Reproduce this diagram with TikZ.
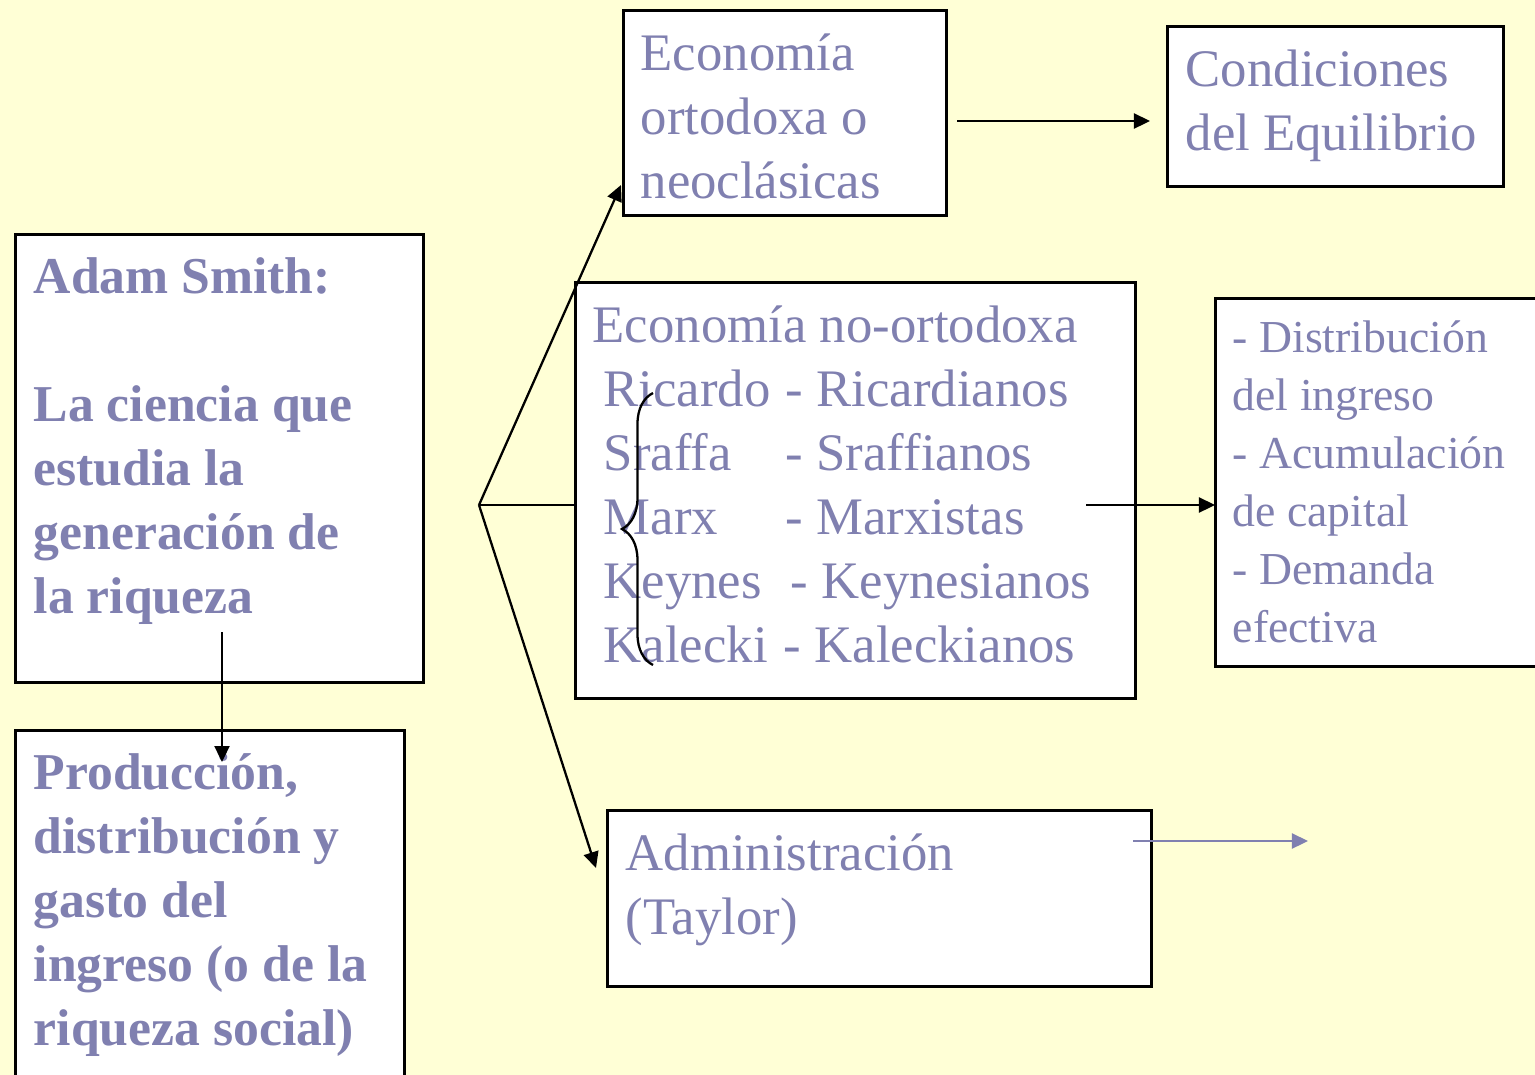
\documentclass[tikz,border=0pt]{standalone}
\usepackage{fontspec}
\setmainfont{Liberation Serif}
\usetikzlibrary{arrows.meta,positioning,decorations.pathreplacing}
\definecolor{paper}{RGB}{255,255,214}
\definecolor{ink}{RGB}{128,128,176}
\tikzset{block/.style={draw=black,fill=white,line width=0.75pt,anchor=north west,inner sep=0pt},txt/.style={anchor=north west,inner sep=0pt,align=left,text=ink,font=\fontsize{15}{18.2}\selectfont},txtbf/.style={txt,font=\fontsize{14.7}{18.2}\selectfont\bfseries},txtsm/.style={txt,font=\fontsize{13}{16.5}\selectfont},edge/.style={-{Triangle[length=1.6mm,width=1.5mm]},line width=0.65pt}}

\begin{document}
\begin{tikzpicture}[x=0.01cm,y=-0.01cm]
\fill[paper] (0,0) rectangle (1535,1075);
\useasboundingbox (0,0) rectangle (1535,1075);
\node[block,minimum width=4.08cm,minimum height=4.48cm] (smith) at (14,233) {};
\node[block,minimum width=3.89cm,minimum height=3.6cm] (prod) at (14,729) {};
\node[block,minimum width=3.23cm,minimum height=2.05cm] (orto) at (622,9) {};
\node[block,minimum width=3.36cm,minimum height=1.6cm] (cond) at (1166,25) {};
\node[block,minimum width=5.6cm,minimum height=4.16cm] (noorto) at (574,281) {};
\node[block,minimum width=3.4cm,minimum height=3.68cm] (dist) at (1214,297) {};
\node[block,minimum width=5.44cm,minimum height=1.76cm] (admin) at (606,809) {};
\node[txtbf] (smithtxt) at (33,257) {Adam Smith:\\[0.64cm]La ciencia que\\estudia la\\generación de\\la riqueza};
\node[txtbf] (prodtxt) at (33,753) {Producción,\\distribución y\\gasto del\\ingreso (o de la\\riqueza social)};
\node[txt] (ortotxt) at (640,33) {Economía\\ortodoxa o\\neoclásicas};
\node[txt] (condtxt) at (1185,49) {Condiciones\\del Equilibrio};
\node[txt] (noortotxt) at (592,305) {Economía no-ortodoxa\\
\hspace{0.11cm}\makebox[1.82cm][l]{Ricardo}- Ricardianos\\
\hspace{0.11cm}\makebox[1.82cm][l]{Sraffa}- Sraffianos\\
\hspace{0.11cm}\makebox[1.82cm][l]{Marx}- Marxistas\\
\hspace{0.11cm}\makebox[1.87cm][l]{Keynes}- Keynesianos\\
\hspace{0.11cm}\makebox[1.8cm][l]{Kalecki}- Kaleckianos};
\node[txtsm] (disttxt) at (1232,320) {- Distribución\\del ingreso\\- Acumulación\\de capital\\- Demanda\\efectiva};
\node[txt] (admintxt) at (625,833) {Administración\\(Taylor)};
\coordinate (fork) at (479,505);
\coordinate (s1) at (222,632);
\coordinate (p1) at (222,762);
\coordinate (o1) at (621,185);
\coordinate (a1) at (596,868);
\draw[edge] (s1) -- (p1);
\draw[line width=0.65pt] (fork) -- (noorto.west |- fork);
\draw[edge] (fork) -- (o1);
\draw[edge] (fork) -- (a1);
\draw[edge] (957,121) coordinate (o2) -- (1150,121) coordinate (c1);
\draw[edge] (1086,505) coordinate (n1) -- (1215,505) coordinate (d1);
\draw[edge,color=ink] (1133,841) coordinate (a2) -- (1308,841) coordinate (x1);
\draw[line width=0.65pt,decorate,decoration={brace,amplitude=0.31cm}] (653,665) -- (653,393);
\end{tikzpicture}
\end{document}
